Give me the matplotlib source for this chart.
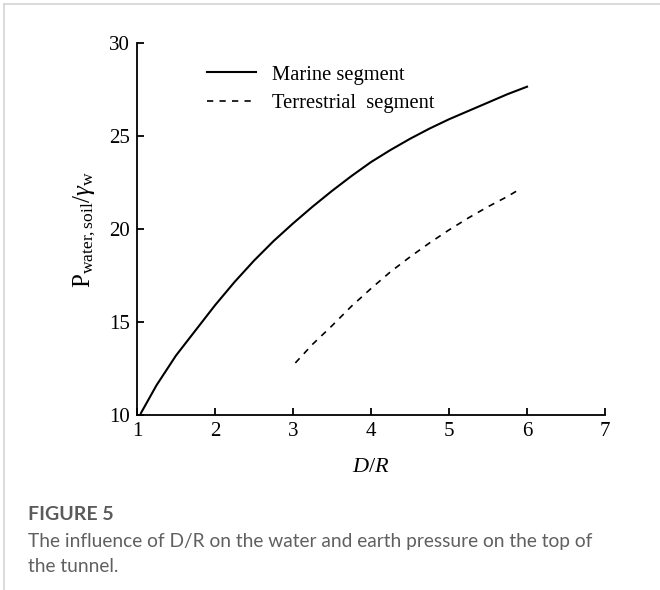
import numpy as np
import matplotlib
matplotlib.use('Agg')
import matplotlib.pyplot as plt
from matplotlib.lines import Line2D

plt.rcParams['font.family'] = ['Liberation Serif', 'DejaVu Serif']
plt.rcParams['mathtext.fontset'] = 'custom'
plt.rcParams['mathtext.rm'] = 'Liberation Serif'
plt.rcParams['mathtext.it'] = 'Liberation Serif:italic'
plt.rcParams['lines.scale_dashes'] = False

# D/R against top pressure for the two tunnel segments
marine_dr = [1.05, 1.25, 1.5, 1.75, 2.0, 2.25, 2.5, 2.75, 3.0, 3.25, 3.5,
             3.75, 4.0, 4.25, 4.5, 4.75, 5.0, 5.25, 5.5, 5.75, 6.0]
marine_p = [10.1, 11.6, 13.2, 14.55, 15.9, 17.15, 18.3, 19.35, 20.3, 21.2, 22.05,
            22.85, 23.6, 24.25, 24.85, 25.4, 25.9, 26.35, 26.8, 27.25, 27.65]

terr_dr = [3.03, 3.25, 3.5, 3.75, 4.0, 4.25, 4.5, 4.75, 5.0, 5.25, 5.5, 5.75, 5.87]
terr_p = [12.8, 13.8, 14.8, 15.85, 16.8, 17.7, 18.5, 19.25, 19.95, 20.6, 21.2, 21.75, 22.05]

x_ticks = [1, 2, 3, 4, 5, 6, 7]
y_ticks = [10, 15, 20, 25, 30]

fig = plt.figure(figsize=(6.6, 5.9), dpi=100)
ax = fig.add_axes([0.2076, 0.2966, 0.7091, 0.6305])

ax.plot(marine_dr, marine_p, color='black', lw=1.5, solid_joinstyle='round')
ax.plot(terr_dr, terr_p, color='black', lw=1.2, dashes=(4.5, 4.5))

ax.set_xlim(1, 7)
ax.set_ylim(10, 30)
ax.set_xticks(x_ticks)
ax.set_yticks(y_ticks)
ax.spines['top'].set_visible(False)
ax.spines['right'].set_visible(False)
for s in ['left', 'bottom']:
    ax.spines[s].set_linewidth(1.3)
ax.tick_params(direction='in', length=5, width=1.3, labelsize=15, pad=5)

ax.set_xlabel('$\\it{D/R}$', fontsize=16, labelpad=12)
ax.set_ylabel('$\\mathrm{P}_{\\mathrm{water,soil}}/\\gamma_{\\mathrm{w}}$', fontsize=18, labelpad=8)

handles = [Line2D([], [], color='black', lw=1.5),
           Line2D([], [], color='black', lw=1.2, dashes=(4.5, 4.5))]
ax.legend(handles, ['Marine segment', 'Terrestrial  segment'], loc='upper left',
          bbox_to_anchor=(0.11, 0.99), frameon=False, fontsize=14.8,
          handlelength=2.4, handletextpad=0.75, labelspacing=0.45)

# card border and caption
fig.add_artist(Line2D([4 / 660, 1], [1 - 4 / 590, 1 - 4 / 590], color='#d4d4d4', lw=1.2))
fig.add_artist(Line2D([4 / 660, 4 / 660], [0, 1 - 4 / 590], color='#d4d4d4', lw=1.2))

fig.text(28 / 660, 1 - 515 / 590, 'FIGURE 5', family=['Lato', 'DejaVu Sans'],
         fontsize=14, fontweight='bold', color='#5a5a5a', va='center')
fig.text(28 / 660, 1 - 541 / 590, 'The influence of D/R on the water and earth pressure on the top of',
         family=['Lato', 'DejaVu Sans'], fontsize=13.8, color='#606060', va='center')
fig.text(28 / 660, 1 - 566 / 590, 'the tunnel.',
         family=['Lato', 'DejaVu Sans'], fontsize=13.8, color='#606060', va='center')

fig.savefig('out.png', dpi=100)
